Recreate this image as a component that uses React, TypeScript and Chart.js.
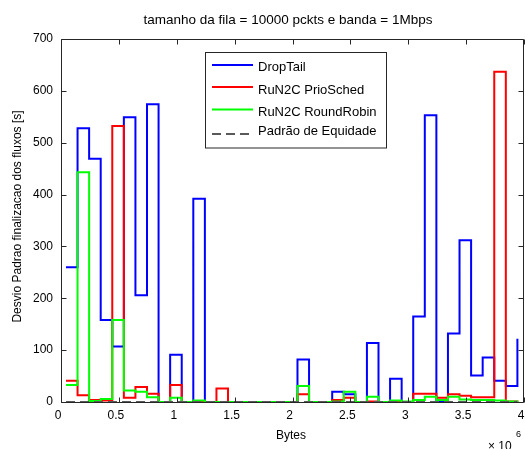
import React, { useEffect, useRef } from 'react';
import { Chart, registerables } from 'chart.js';

Chart.register(...registerables);

// Flow size bins (bytes)
const xBytes = [
  43000, 143000, 243000, 343000, 443000, 543000, 643000, 743000, 843000, 943000,
  1043000, 1143000, 1243000, 1343000, 1443000, 1543000, 1643000, 1743000, 1843000, 1943000,
  2043000, 2143000, 2243000, 2343000, 2443000, 2543000, 2643000, 2743000, 2843000, 2943000,
  3043000, 3143000, 3243000, 3343000, 3443000, 3543000, 3643000, 3743000, 3843000, 3943000,
];

const dropTail = [
  260, 528, 469, 158, 107, 549, 206, 574, 0, 91,
  0, 392, 0, 0, 0, 0, 0, 0, 0, 0,
  82, 0, 0, 20, 15, 0, 114, 0, 45, 0,
  165, 553, 0, 132, 312, 51, 86, 41, 31, 122,
];

const prioSched = [
  41, 13, 4, 3, 532, 8, 29, 16, 0, 33,
  0, 1, 0, 26, 0, 0, 0, 0, 0, 0,
  15, 0, 0, 4, 8, 0, 1, 0, 1, 0,
  16, 16, 8, 15, 12, 9, 9, 637, 1, 0,
];

const roundRobin = [
  33, 443, 2, 6, 158, 22, 20, 9, 0, 8,
  0, 3, 0, 0, 0, 0, 0, 0, 0, 0,
  31, 0, 0, 1, 20, 0, 10, 0, 3, 1,
  4, 10, 4, 10, 5, 4, 4, 3, 1, 0,
];

const equidade = [
  0, 0, 0, 0, 0, 0, 0, 0, 0, 0,
  0, 0, 0, 0, 0, 0, 0, 0, 0, 0,
  0, 0, 0, 0, 0, 0, 0, 0, 0, 0,
  0, 0, 0, 0, 0, 0, 0, 0, 0, 0,
];

const seriesNames = ['DropTail', 'RuN2C PrioSched', 'RuN2C RoundRobin', 'Padrão de Equidade'];
const seriesColors = ['#0000ff', '#ff0000', '#00ff00', '#595959'];

const xTickLabels = ['0', '0.5', '1', '1.5', '2', '2.5', '3', '3.5', '4'];
const yTickLabels = ['0', '100', '200', '300', '400', '500', '600', '700'];

const titleText = 'tamanho da fila = 10000 pckts e banda = 1Mbps';
const xLabelText = 'Bytes';
const yLabelText = 'Desvio Padrao finalizacao dos fluxos [s]';

const FONT = '"Liberation Sans", Arial, Helvetica, sans-serif';
const AXIS_COLOR = '#262626';

const decorPlugin = {
  id: 'matlabDecor',
  afterDraw(chart: any) {
    const { ctx, chartArea } = chart;
    const xs = chart.scales.x;
    const ys = chart.scales.y;
    const L = Math.round(chartArea.left) + 0.5;
    const R = Math.round(chartArea.right) - 0.5;
    const T = Math.round(chartArea.top) + 0.5;
    const B = Math.round(chartArea.bottom) + 0.5;
    ctx.save();
    ctx.strokeStyle = AXIS_COLOR;
    ctx.lineWidth = 1;
    ctx.beginPath();
    ctx.rect(L, T, R - L, B - T);
    ctx.stroke();
    const tl = 5;
    ctx.beginPath();
    xs.ticks.forEach((t: any) => {
      const px = Math.round(xs.getPixelForValue(t.value)) + 0.5;
      ctx.moveTo(px, B);
      ctx.lineTo(px, B - tl);
      ctx.moveTo(px, T);
      ctx.lineTo(px, T + tl);
    });
    ys.ticks.forEach((t: any) => {
      const py = Math.round(ys.getPixelForValue(t.value)) + 0.5;
      ctx.moveTo(L, py);
      ctx.lineTo(L + tl, py);
      ctx.moveTo(R, py);
      ctx.lineTo(R - tl, py);
    });
    ctx.stroke();

    // Title
    ctx.fillStyle = '#000';
    ctx.textAlign = 'center';
    ctx.textBaseline = 'middle';
    ctx.font = `13.5px ${FONT}`;
    ctx.fillText(titleText, 288, 20);

    // X label
    ctx.font = `12px ${FONT}`;
    ctx.fillText(xLabelText, 291, 436);

    // x10^6
    ctx.textAlign = 'left';
    ctx.fillText('\u00d7 10', 488, 447);
    ctx.font = `9px ${FONT}`;
    ctx.fillText('6', 516, 435);

    // Y label
    ctx.save();
    ctx.translate(18, 216.5);
    ctx.rotate(-Math.PI / 2);
    ctx.textAlign = 'center';
    ctx.textBaseline = 'middle';
    ctx.font = `12px ${FONT}`;
    ctx.fillText(yLabelText, 0, 0);
    ctx.restore();

    // Legend
    const bx = 205.5, by = 52.5, bw = 181, bh = 95.5;
    ctx.fillStyle = '#ffffff';
    ctx.fillRect(bx, by, bw, bh);
    ctx.strokeStyle = AXIS_COLOR;
    ctx.lineWidth = 1;
    ctx.strokeRect(bx, by, bw, bh);
    const lineYs = [65, 87, 109.5, 134];
    const textYs = [67.5, 90, 112.5, 131.5];
    ctx.font = `13px ${FONT}`;
    ctx.textAlign = 'left';
    ctx.textBaseline = 'middle';
    seriesNames.forEach((name, i) => {
      ctx.strokeStyle = seriesColors[i];
      ctx.lineWidth = 2;
      ctx.setLineDash(i === 3 ? [9, 5] : []);
      ctx.beginPath();
      ctx.moveTo(212, lineYs[i]);
      ctx.lineTo(253, lineYs[i]);
      ctx.stroke();
      ctx.setLineDash([]);
      ctx.fillStyle = '#000';
      ctx.fillText(name, 258, textYs[i]);
    });
    ctx.restore();
  },
};

export default function App() {
  const canvasRef = useRef<HTMLCanvasElement | null>(null);

  useEffect(() => {
    const canvas = canvasRef.current;
    if (!canvas) return;
    const mk = (vals: number[]) => xBytes.map((x, i) => ({ x, y: vals[i] }));
    const chart = new Chart(canvas, {
      type: 'line',
      data: {
        datasets: [
          { label: seriesNames[0], data: mk(dropTail), borderColor: seriesColors[0], order: 4 },
          { label: seriesNames[1], data: mk(prioSched), borderColor: seriesColors[1], order: 3 },
          { label: seriesNames[2], data: mk(roundRobin), borderColor: seriesColors[2], order: 2 },
          { label: seriesNames[3], data: mk(equidade), borderColor: seriesColors[3], borderDash: [9, 5], order: 1 },
        ].map((d) => ({
          ...d,
          stepped: true,
          fill: false,
          borderWidth: 2,
          pointRadius: 0,
          pointHoverRadius: 0,
          tension: 0,
          clip: 3,
        })) as any,
      },
      options: {
        responsive: false,
        animation: false,
        devicePixelRatio: 1,
        layout: { padding: { left: 0, right: 1, top: 39, bottom: 0 } },
        plugins: {
          legend: { display: false },
          tooltip: { enabled: false },
          title: { display: false },
        },
        events: [],
        scales: {
          x: {
            type: 'linear',
            min: 0,
            max: 4000000,
            grid: { display: false, drawTicks: false },
            border: { display: false },
            ticks: {
              stepSize: 500000,
              autoSkip: false,
              maxRotation: 0,
              padding: 6,
              labelOffset: -3,
              color: '#000',
              font: { family: FONT, size: 12 },
              callback: (_v: any, i: number) => xTickLabels[i],
            },
            afterFit: (s: any) => {
              s.height = 47;
              s.paddingLeft = 0;
              s.paddingRight = 0;
            },
          },
          y: {
            type: 'linear',
            min: 0,
            max: 700,
            grid: { display: false, drawTicks: false },
            border: { display: false },
            ticks: {
              stepSize: 100,
              autoSkip: false,
              padding: 8,
              color: '#000',
              font: { family: FONT, size: 12 },
              callback: (_v: any, i: number) => yTickLabels[i],
            },
            afterFit: (s: any) => {
              s.width = 61;
              s.paddingTop = 0;
              s.paddingBottom = 0;
            },
          },
        },
      },
      plugins: [decorPlugin],
    });
    return () => chart.destroy();
  }, []);

  return (
    <div style={{ position: 'fixed', left: 0, top: 0, width: 525, height: 449, background: '#fff' }}>
      <canvas ref={canvasRef} width={525} height={449} style={{ display: 'block' }} />
    </div>
  );
}
